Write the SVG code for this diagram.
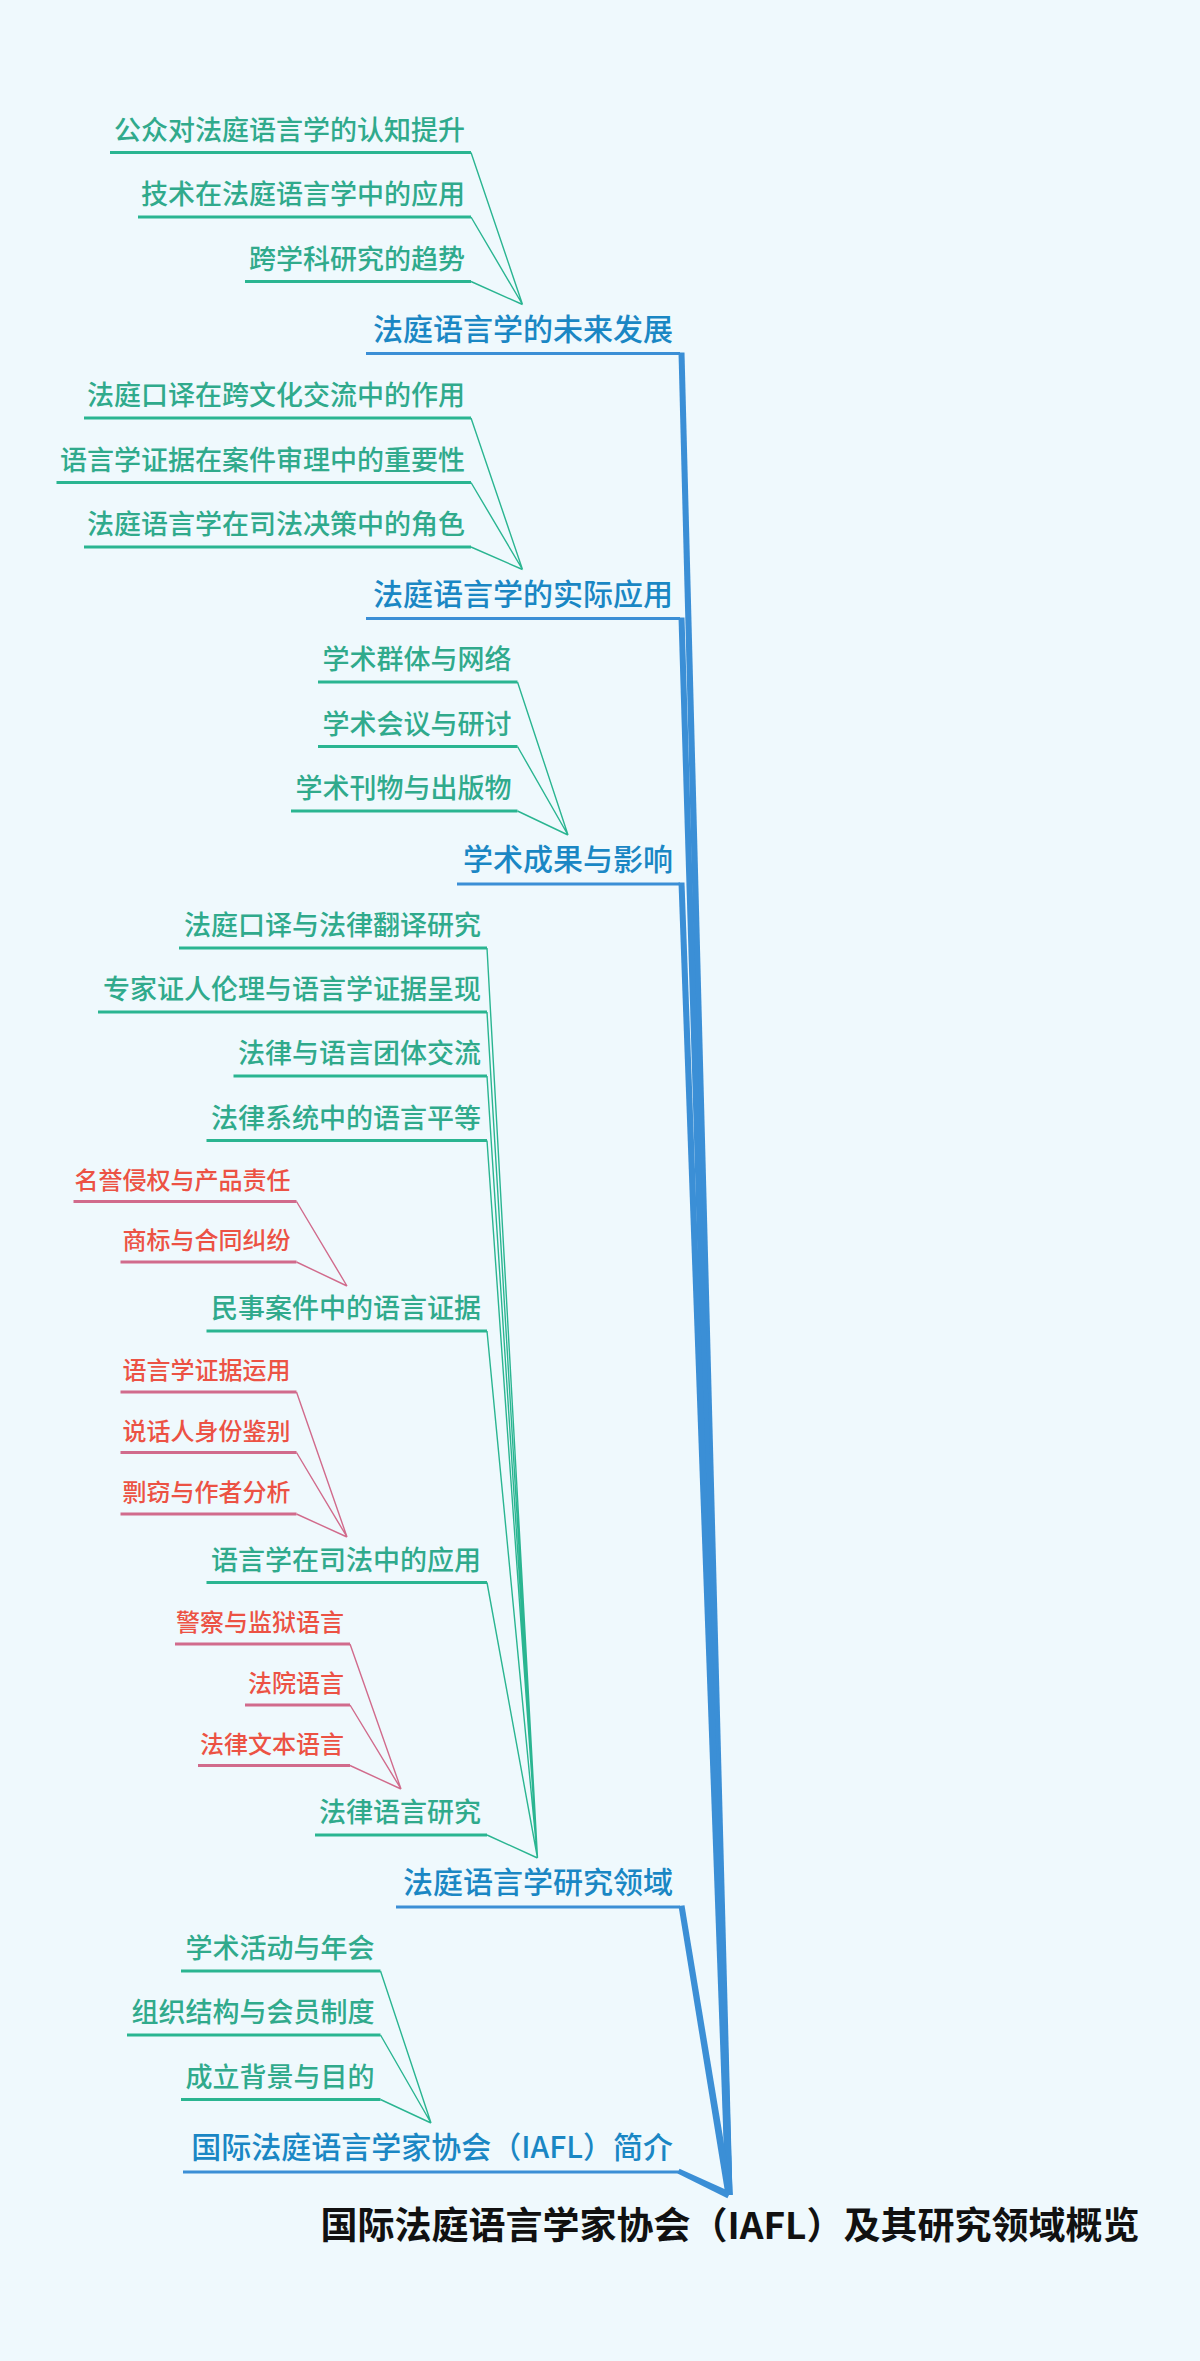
<svg xmlns="http://www.w3.org/2000/svg" width="1200" height="2361" viewBox="0 0 1200 2361">
<style>
text{font-family:"Noto Sans CJK SC","Noto Sans",sans-serif}
.root{font-size:37px;font-weight:bold;fill:#111;text-anchor:middle}
.main{font-size:30px;fill:#1a87c4;text-anchor:end;font-weight:500}
.sub{font-size:27px;fill:#30aa8c;text-anchor:end;font-weight:500}
.leaf{font-size:24px;fill:#ec5244;text-anchor:end;font-weight:500}
.ulm{stroke:#3b8fd6;stroke-width:3;fill:none}
.uls{stroke:#2ab591;stroke-width:3;fill:none}
.ull{stroke:#d16b8c;stroke-width:3;fill:none}
.cs{stroke:#2ab591;stroke-width:1.4;fill:none}
.cl{stroke:#d16b8c;stroke-width:1.4;fill:none}
.cm{fill:#3b8fd6}
</style>
<rect x="0" y="0" width="1200" height="2361" fill="#eff9fd"/>

<g id="connectors">
  <!-- main to hub -->
  <polygon class="cm" points="678.5,352.5 684.5,352.5 732.5,2195 725.5,2195"/>
  <polygon class="cm" points="678.5,617.5 684.5,617.5 732.5,2195 725.5,2195"/>
  <polygon class="cm" points="678.5,882.5 684.5,882.5 732.5,2195 725.5,2195"/>
  <polygon class="cm" points="678.5,1906 684.5,1905.2 732.4,2194.3 725.6,2195.7"/>
  <polygon class="cm" points="677.5,2173.6 679.5,2168.8 730.6,2191.8 727.4,2198.2"/>
  <!-- M1 children -->
  <path class="cs" d="M471,152.5 L522.5,304.5 M471,217 L522.5,304.5 M471,281.5 L522.5,304.5"/>
  <!-- M2 children -->
  <path class="cs" d="M471,418 L522.5,569.5 M471,482.5 L522.5,569.5 M471,547 L522.5,569.5"/>
  <!-- M3 children -->
  <path class="cs" d="M517.5,682 L568,835 M517.5,746.5 L568,835 M517.5,811 L568,835"/>
  <!-- M4 children -->
  <path class="cs" d="M487,948 L537.5,1858 M487,1012 L537.5,1858 M487,1076 L537.5,1858 M487,1140.5 L537.5,1858 M487,1331 L537.5,1858 M487,1582.5 L537.5,1858 M487,1835 L537.5,1858"/>
  <!-- M5 children -->
  <path class="cs" d="M380.5,1971 L431,2123 M380.5,2035 L431,2123 M380.5,2099.5 L431,2123"/>
  <!-- leaf connectors -->
  <path class="cl" d="M296.5,1201.5 L347,1286 M296.5,1262 L347,1286"/>
  <path class="cl" d="M296.5,1392 L347,1537 M296.5,1452.5 L347,1537 M296.5,1514 L347,1537"/>
  <path class="cl" d="M350,1644 L401,1789 M350,1705 L401,1789 M350,1765.5 L401,1789"/>
</g>

<g id="root"><text class="root" x="730" y="2239">国际法庭语言学家协会（IAFL）及其研究领域概览</text></g>

<g id="m1"><text class="main" x="673" y="339.5">法庭语言学的未来发展</text><line class="ulm" x1="366" y1="353.5" x2="680" y2="353.5"/></g>
<g id="m1a"><text class="sub" x="465" y="139.5">公众对法庭语言学的认知提升</text><line class="uls" x1="110" y1="152.5" x2="471" y2="152.5"/></g>
<g id="m1b"><text class="sub" x="465" y="204">技术在法庭语言学中的应用</text><line class="uls" x1="138" y1="217" x2="471" y2="217"/></g>
<g id="m1c"><text class="sub" x="465" y="268.5">跨学科研究的趋势</text><line class="uls" x1="245" y1="281.5" x2="471" y2="281.5"/></g>

<g id="m2"><text class="main" x="673" y="604.5">法庭语言学的实际应用</text><line class="ulm" x1="366" y1="618.5" x2="680" y2="618.5"/></g>
<g id="m2a"><text class="sub" x="465" y="405">法庭口译在跨文化交流中的作用</text><line class="uls" x1="84" y1="418" x2="471" y2="418"/></g>
<g id="m2b"><text class="sub" x="465" y="469.5">语言学证据在案件审理中的重要性</text><line class="uls" x1="56.5" y1="482.5" x2="471" y2="482.5"/></g>
<g id="m2c"><text class="sub" x="465" y="534">法庭语言学在司法决策中的角色</text><line class="uls" x1="84" y1="547" x2="471" y2="547"/></g>

<g id="m3"><text class="main" x="673" y="870">学术成果与影响</text><line class="ulm" x1="457" y1="884" x2="680" y2="884"/></g>
<g id="m3a"><text class="sub" x="511.5" y="669">学术群体与网络</text><line class="uls" x1="318" y1="682" x2="517.5" y2="682"/></g>
<g id="m3b"><text class="sub" x="511.5" y="733.5">学术会议与研讨</text><line class="uls" x1="318" y1="746.5" x2="517.5" y2="746.5"/></g>
<g id="m3c"><text class="sub" x="511.5" y="798">学术刊物与出版物</text><line class="uls" x1="291" y1="811" x2="517.5" y2="811"/></g>

<g id="m4"><text class="main" x="673" y="1893">法庭语言学研究领域</text><line class="ulm" x1="396" y1="1907" x2="680" y2="1907"/></g>
<g id="m4a"><text class="sub" x="481" y="935">法庭口译与法律翻译研究</text><line class="uls" x1="179" y1="948" x2="487" y2="948"/></g>
<g id="m4b"><text class="sub" x="481" y="999">专家证人伦理与语言学证据呈现</text><line class="uls" x1="98" y1="1012" x2="487" y2="1012"/></g>
<g id="m4c"><text class="sub" x="481" y="1063">法律与语言团体交流</text><line class="uls" x1="233.5" y1="1076" x2="487" y2="1076"/></g>
<g id="m4d"><text class="sub" x="481" y="1127.5">法律系统中的语言平等</text><line class="uls" x1="206.5" y1="1140.5" x2="487" y2="1140.5"/></g>
<g id="m4e"><text class="sub" x="481" y="1318">民事案件中的语言证据</text><line class="uls" x1="206.5" y1="1331" x2="487" y2="1331"/></g>
<g id="m4e1"><text class="leaf" x="290.5" y="1188.5">名誉侵权与产品责任</text><line class="ull" x1="73.5" y1="1201.5" x2="296.5" y2="1201.5"/></g>
<g id="m4e2"><text class="leaf" x="290.5" y="1249">商标与合同纠纷</text><line class="ull" x1="120.5" y1="1262" x2="296.5" y2="1262"/></g>
<g id="m4f"><text class="sub" x="481" y="1569.5">语言学在司法中的应用</text><line class="uls" x1="206.5" y1="1582.5" x2="487" y2="1582.5"/></g>
<g id="m4f1"><text class="leaf" x="290.5" y="1379">语言学证据运用</text><line class="ull" x1="120.5" y1="1392" x2="296.5" y2="1392"/></g>
<g id="m4f2"><text class="leaf" x="290.5" y="1439.5">说话人身份鉴别</text><line class="ull" x1="120.5" y1="1452.5" x2="296.5" y2="1452.5"/></g>
<g id="m4f3"><text class="leaf" x="290.5" y="1501">剽窃与作者分析</text><line class="ull" x1="120.5" y1="1514" x2="296.5" y2="1514"/></g>
<g id="m4g"><text class="sub" x="481" y="1822">法律语言研究</text><line class="uls" x1="315" y1="1835" x2="487" y2="1835"/></g>
<g id="m4g1"><text class="leaf" x="344" y="1631">警察与监狱语言</text><line class="ull" x1="175" y1="1644" x2="350" y2="1644"/></g>
<g id="m4g2"><text class="leaf" x="344" y="1692">法院语言</text><line class="ull" x1="245" y1="1705" x2="350" y2="1705"/></g>
<g id="m4g3"><text class="leaf" x="344" y="1752.5">法律文本语言</text><line class="ull" x1="198" y1="1765.5" x2="350" y2="1765.5"/></g>

<g id="m5"><text class="main" x="673" y="2158">国际法庭语言学家协会（IAFL）简介</text><line class="ulm" x1="183" y1="2172" x2="679" y2="2172"/></g>
<g id="m5a"><text class="sub" x="374.5" y="1958">学术活动与年会</text><line class="uls" x1="181" y1="1971" x2="380.5" y2="1971"/></g>
<g id="m5b"><text class="sub" x="374.5" y="2022">组织结构与会员制度</text><line class="uls" x1="127" y1="2035" x2="380.5" y2="2035"/></g>
<g id="m5c"><text class="sub" x="374.5" y="2086.5">成立背景与目的</text><line class="uls" x1="181" y1="2099.5" x2="380.5" y2="2099.5"/></g>
</svg>
